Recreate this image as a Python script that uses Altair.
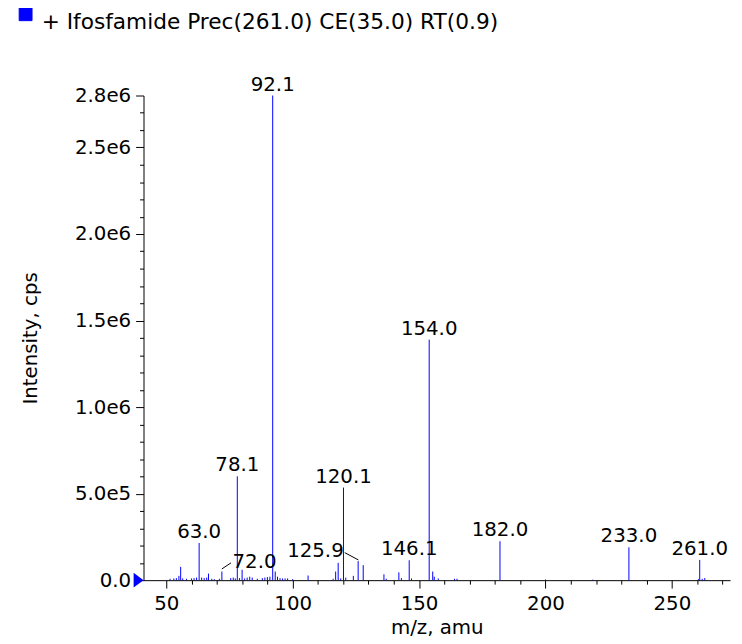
import altair as alt
import pandas as pd

FONT = "DejaVu Sans"
series_name = "+ Ifosfamide Prec(261.0) CE(35.0) RT(0.9)"

# ---- spectrum (m/z, intensity in cps) ----
mz = [51.5, 53.0, 54.0, 55.0, 55.7, 56.5, 58.0, 60.0, 61.0, 62.0, 63.0, 64.0,
      65.0, 66.0, 66.7, 68.0, 69.0, 71.0, 72.0, 75.5, 76.5, 77.3, 78.1, 79.0,
      80.0, 81.0, 82.0, 83.0, 84.0, 86.0, 88.0, 89.0, 90.0, 91.0, 92.1, 93.1,
      94.0, 95.0, 96.0, 97.0, 98.0, 100.0, 106.1, 116.0, 117.0, 118.0, 119.0,
      120.1, 121.0, 124.0, 125.9, 127.9, 136.1, 137.0, 142.0, 143.0, 146.1,
      147.0, 154.0, 155.4, 156.0, 157.6, 164.0, 165.0, 182.0, 200.0, 218.7,
      233.0, 260.5, 261.0, 262.0, 263.0]
intensity = [8e3, 1e4, 1.2e4, 2.5e4, 7.7e4, 1e4, 8e3, 1e4, 1.2e4, 1.5e4, 2.15e5, 1.5e4,
             1.2e4, 1.5e4, 3.8e4, 8e3, 6e3, 8e3, 5e4, 1.2e4, 1.5e4, 1e4, 6.0e5, 1.2e4,
             6e4, 1e4, 1.5e4, 2e4, 1.5e4, 8e3, 1.2e4, 1.5e4, 1.8e4, 2e4, 2.8e6, 5e4,
             2e4, 1.2e4, 1e4, 1e4, 1e4, 6e3, 2.7e4, 8e3, 5e4, 1.0e5, 1e4,
             5.35e5, 1.5e4, 2.5e4, 1.1e5, 8.7e4, 3.4e4, 8e3, 4.5e4, 1.2e4, 1.15e5,
             1e4, 1.39e6, 5e4, 2e4, 1e4, 8e3, 8e3, 2.25e5, 4e3, 3e3,
             1.9e5, 6e3, 1.17e5, 8e3, 1.2e4]

# ---- peak labels placed above their peaks ----
label_text = ["63.0", "78.1", "92.1", "120.1", "146.1", "154.0", "182.0", "233.0", "261.0"]
label_mz = [63.0, 78.1, 92.1, 120.1, 146.1, 154.0, 182.0, 233.0, 261.0]
label_int = [2.15e5, 6.0e5, 2.8e6, 5.35e5, 1.15e5, 1.39e6, 2.25e5, 1.9e5, 1.17e5]

# ---- peak labels with leader lines ----
callout_text = ["72.0", "125.9"]
callout_x = [76.2, 120.2]
callout_y = [7.3e4, 1.34e5]
callout_align = ["left", "right"]
leader_x = [72.0, 120.6]
leader_y = [6.5e4, 1.59e5]
leader_x2 = [75.6, 126.0]
leader_y2 = [1.0e5, 1.17e5]

# ---- axes ----
x_domain = [41, 273]
y_domain = [0, 2800000]
x_ticks = [50, 60, 70, 80, 90, 100, 110, 120, 130, 140, 150, 160, 170, 180,
           190, 200, 210, 220, 230, 240, 250, 260, 270]
x_major = [50, 100, 150, 200, 250]
y_ticks = [i * 100000 for i in range(0, 29)]
y_major = [0, 500000, 1000000, 1500000, 2000000, 2500000, 2800000]
y_major_labels = ["0.0", "5.0e5", "1.0e6", "1.5e6", "2.0e6", "2.5e6", "2.8e6"]

marker_x = [41]
marker_y = [0]

spec_df = pd.DataFrame({"mz": mz, "intensity": intensity, "series": series_name})
label_df = pd.DataFrame({"mz": label_mz, "intensity": label_int, "text": label_text})
leader_df = pd.DataFrame({"mz": leader_x, "intensity": leader_y, "x2": leader_x2, "y2": leader_y2})
marker_df = pd.DataFrame({"mz": marker_x, "intensity": marker_y})

x_major_list = "[" + ",".join(str(v) for v in x_major) + "]"
y_major_list = "[" + ",".join(str(v) for v in y_major) + "]"
y_label_expr = "".join(f"datum.value == {v} ? '{l}' : " for v, l in zip(y_major, y_major_labels)) + "''"

x_scale = alt.Scale(domain=x_domain, nice=False, zero=False)
y_scale = alt.Scale(domain=y_domain, nice=False)

x_axis = alt.Axis(
    values=x_ticks,
    labelExpr=f"indexof({x_major_list}, datum.value) >= 0 ? datum.label : ''",
    tickSize={"condition": {"test": f"indexof({x_major_list}, datum.value) >= 0", "value": 8}, "value": 4},
    domainColor="black", tickColor="black", tickWidth=1, domainWidth=1,
    labelFont=FONT, labelFontSize=20, labelColor="black", labelPadding=6,
    labelOverlap=False, labelFlush=False, labelBound=False, grid=False,
    title="m/z, amu", titleFont=FONT, titleFontSize=20, titleFontWeight="normal",
    titleColor="black", titleBaseline="alphabetic", titleY=54,
)
y_axis = alt.Axis(
    values=y_ticks,
    labelExpr=y_label_expr,
    tickSize={"condition": {"test": f"indexof({y_major_list}, datum.value) >= 0", "value": 8}, "value": 4},
    domainColor="black", tickColor="black", tickWidth=1, domainWidth=1,
    labelFont=FONT, labelFontSize=20, labelColor="black", labelPadding=5,
    labelOverlap=False, labelFlush=False, labelBound=False, grid=False,
    title="Intensity, cps", titleFont=FONT, titleFontSize=20, titleFontWeight="normal",
    titleColor="black", titleBaseline="alphabetic", titleX=-108, titleY=245,
)


def X(field="mz"):
    return alt.X(f"{field}:Q", scale=x_scale, axis=x_axis, title="m/z, amu")


def Y(field="intensity"):
    return alt.Y(f"{field}:Q", scale=y_scale, axis=y_axis, title="Intensity, cps")


spectrum = alt.Chart(spec_df).mark_rule(strokeWidth=1).encode(
    x=X(),
    y=Y(),
    y2=alt.datum(0),
    color=alt.Color(
        "series:N",
        scale=alt.Scale(domain=[series_name], range=["#0000ff"]),
        legend=alt.Legend(
            title=None, orient="none", legendX=-130, legendY=-93,
            symbolType="square", symbolSize=169, symbolFillColor="#0000ff",
            symbolStrokeColor="#00008b", symbolStrokeWidth=1, symbolOpacity=1,
            labelExpr="''", labelFontSize=21.6, padding=0,
        ),
    ),
)

labels = alt.Chart(label_df).mark_text(
    font=FONT, fontSize=20, color="black", align="center", baseline="alphabetic", dy=-5
).encode(x=X(), y=Y(), text="text:N")

callouts = []
for t, cx, cy, al in zip(callout_text, callout_x, callout_y, callout_align):
    cdf = pd.DataFrame({"mz": [cx], "intensity": [cy], "text": [t]})
    callouts.append(
        alt.Chart(cdf).mark_text(font=FONT, fontSize=20, color="black", align=al, baseline="alphabetic")
        .encode(x=X(), y=Y(), text="text:N")
    )

leaders = alt.Chart(leader_df).mark_rule(color="black", strokeWidth=1).encode(
    x=X(), y=Y(), x2=alt.X2("x2:Q"), y2=alt.Y2("y2:Q")
)

marker = alt.Chart(marker_df).mark_point(
    shape="M -1 -0.75 L 0 0 L -1 0.75 Z", filled=True, size=400, color="#0000ff",
    opacity=1, clip=False
).encode(x=X(), y=Y())

chart = alt.layer(spectrum, leaders, labels, *callouts, marker).properties(
    width=593, height=490,
    autosize=alt.AutoSizeParams(type="none"),
    padding={"left": 137, "top": 85, "right": 4, "bottom": 57},
    title=alt.TitleParams(
        series_name, anchor="start", frame="group", orient="top",
        font=FONT, fontSize=21.9, fontWeight="normal", color="black",
        baseline="alphabetic", offset=0, dx=-103, dy=48,
    ),
).configure_view(stroke=None)

chart.save("out.html", embed_options={"renderer": "svg", "actions": False})
